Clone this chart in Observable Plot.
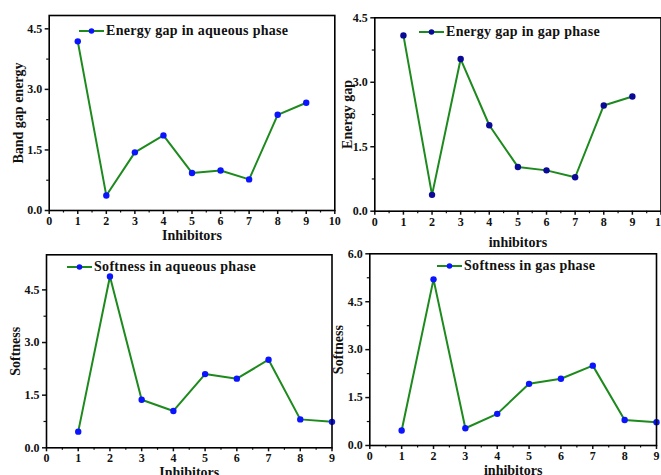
<!DOCTYPE html>
<html>
<head>
<meta charset="utf-8">
<script src="https://cdn.jsdelivr.net/npm/d3@7"></script>
<script src="https://cdn.jsdelivr.net/npm/@observablehq/plot@0.6"></script>
<style>
  html, body { margin: 0; padding: 0; background: #fff; }
  #wrap { position: relative; width: 661px; height: 475px; overflow: hidden; background: #fff; }
  #wrap > svg { position: absolute; left: 0; top: 0; }
  .leg { position: absolute; display: flex; align-items: center; font: bold 14px "Liberation Serif", serif; letter-spacing: 0.3px; color: #111; white-space: nowrap; }
</style>
</head>
<body>
<div id="wrap"></div>
<script>
const inhibitors = [1, 2, 3, 4, 5, 6, 7, 8, 9];
const gapAqueous = [4.19, 0.37, 1.44, 1.86, 0.93, 0.99, 0.77, 2.37, 2.67];
const gapGas = [4.09, 0.38, 3.54, 2.00, 1.03, 0.95, 0.79, 2.46, 2.67];
const softAqueous = [0.46, 4.88, 1.37, 1.05, 2.10, 1.97, 2.51, 0.81, 0.74];
const softGas = [0.47, 5.20, 0.54, 0.99, 1.93, 2.09, 2.50, 0.80, 0.73];

const legendNames = ["Energy gap in aqueous phase", "Energy gap in gap phase", "Softness in aqueous phase", "Softness in gas phase"];
const yLabels = ["Band gap energy", "Energy gap", "Softness", "Softness"];
const xLabels = ["Inhibitors", "inhibitors", "Inhibitors", "inhibitors"];

const W = 661, H = 475;
const panels = [
  {vals: gapAqueous, name: legendNames[0], ylab: yLabels[0], xlab: xLabels[0], frame: [48.7, 334.3, 15, 210], xMax: 10, yMax: 4.83, yTicks: [0, 1.5, 3, 4.5], dot: "#0a14ff", xdy: 25, ydx: -30.5, leg: [79, 31]},
  {vals: gapGas, name: legendNames[1], ylab: yLabels[1], xlab: xLabels[1], frame: [374.3, 660.5, 17.3, 210.7], xMax: 10, yMax: 4.5, yTicks: [0, 1.5, 3, 4.5], dot: "#0a0a96", xdy: 31, ydx: -27, leg: [419, 32]},
  {vals: softAqueous, name: legendNames[2], ylab: yLabels[2], xlab: xLabels[2], frame: [46, 331.5, 254.3, 447.3], xMax: 9, yMax: 5.5, yTicks: [0, 1.5, 3, 4.5], dot: "#0a14ff", xdy: 25, ydx: -31, leg: [67, 267]},
  {vals: softGas, name: legendNames[3], ylab: yLabels[3], xlab: xLabels[3], frame: [369.3, 656, 253.3, 445], xMax: 9, yMax: 6, yTicks: [0, 1.5, 3, 4.5, 6], dot: "#0a14ff", xdy: 25, ydx: -31, leg: [437, 266]}
];

const lineColor = "#1d8a1d";
const wrap = document.getElementById("wrap");

panels.forEach(p => {
  const data = inhibitors.map((x, i) => ({x, y: p.vals[i]}));
  const [fl, fr, ft, fb] = p.frame;
  const xMajor = d3.range(0, p.xMax + 1);
  const xMinor = d3.range(0.5, p.xMax, 1);
  const yMinor = p.yTicks.slice(0, -1).map(v => v + 0.75).filter(v => v < p.yMax);
  const chart = Plot.plot({
    width: W, height: H,
    marginLeft: fl, marginRight: W - fr, marginTop: ft, marginBottom: H - fb,
    x: {domain: [0, p.xMax]},
    y: {domain: [0, p.yMax]},
    style: {background: "transparent", overflow: "visible", fontFamily: "Liberation Serif, serif", fontWeight: "bold", fontSize: "12px", color: "#111"},
    marks: [
      Plot.axisX({ticks: xMajor, tickSize: 4, tickPadding: 2, tickFormat: d => String(d), label: null, strokeWidth: 1.5}),
      Plot.axisX({ticks: xMinor, tickSize: 2.5, tickFormat: () => "", label: null, strokeWidth: 1.2}),
      Plot.axisY({ticks: p.yTicks, tickSize: 4, tickPadding: 3, tickFormat: d => d.toFixed(1), label: null, strokeWidth: 1.5}),
      Plot.axisY({ticks: yMinor, tickSize: 2.5, tickFormat: () => "", label: null, strokeWidth: 1.2}),
      Plot.line(data, {x: "x", y: "y", stroke: lineColor, strokeWidth: 2}),
      Plot.dot(data, {x: "x", y: "y", r: 3.2, fill: p.dot, stroke: null}),
      Plot.frame({stroke: "#000", strokeWidth: 1.6}),
      Plot.text([p.xlab], {text: d => d, frameAnchor: "bottom", dy: p.xdy, textAnchor: "middle", lineAnchor: "middle", fontSize: 14, fontWeight: "bold", fill: "#111"}),
      Plot.text([p.ylab], {text: d => d, frameAnchor: "left", dx: p.ydx, rotate: -90, textAnchor: "middle", lineAnchor: "middle", fontSize: 14, fontWeight: "bold", fill: "#111"})
    ]
  });
  wrap.appendChild(chart);

  const leg = document.createElement("div");
  leg.className = "leg";
  leg.style.left = p.leg[0] + "px";
  leg.style.top = (p.leg[1] - 9) + "px";
  leg.style.height = "18px";
  leg.innerHTML = `<svg width="25" height="18" style="display:block"><line x1="0" y1="9" x2="25" y2="9" stroke="${lineColor}" stroke-width="2"/><circle cx="12.5" cy="9" r="2.8" fill="${p.dot}"/></svg><span style="margin-left:2px">${p.name}</span>`;
  wrap.appendChild(leg);
});
</script>
</body>
</html>
